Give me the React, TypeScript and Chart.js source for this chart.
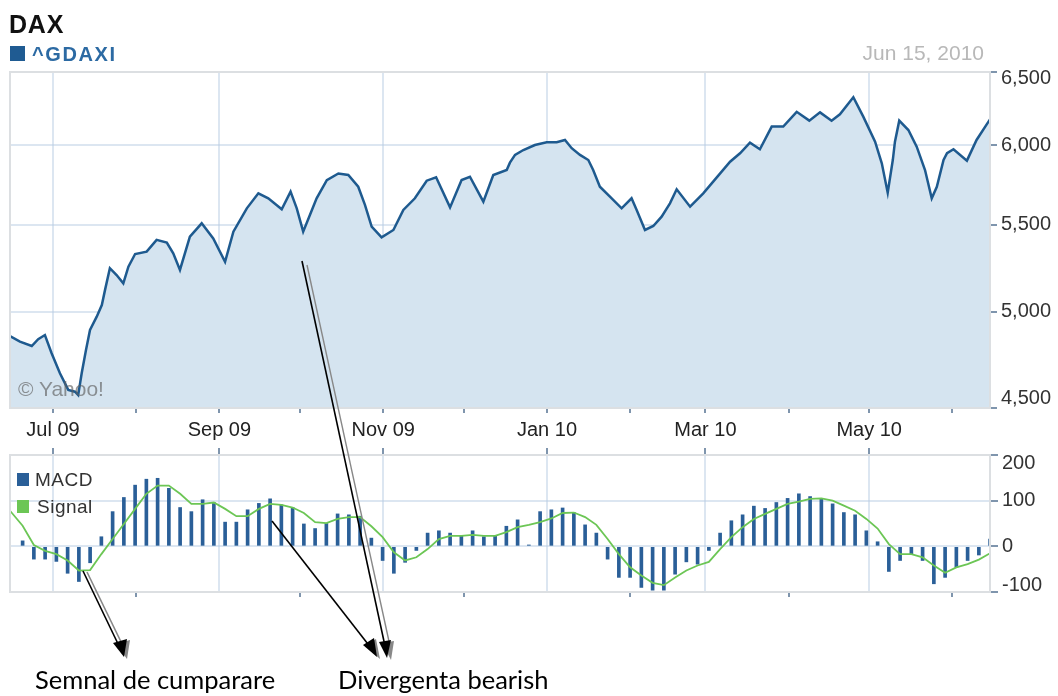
import React, { useEffect, useRef } from 'react';
import { Chart, registerables } from 'chart.js';

Chart.register(...registerables);

// ---------- data ----------
const TITLE = 'DAX';
const SYMBOL = '^GDAXI';
const DATE_LABEL = 'Jun 15, 2010';
const WATERMARK = '© Yahoo!';

// x axis: days since 2009-06-15 (0 .. 365 = Jun 15, 2010)
const X_MIN_DAY = 0;
const X_MAX_DAY = 365;
const monthTickDays = [16, 47, 78, 108, 139, 169, 200, 231, 259, 290, 320, 351];
const monthTickLabels = ['Jul 09', '', 'Sep 09', '', 'Nov 09', '', 'Jan 10', '', 'Mar 10', '', 'May 10', ''];

const priceTicks = [4500, 5000, 5500, 6000, 6500];
const macdTicks = [-100, 0, 100, 200];

const priceDays = [
  0, 3.7, 8.1, 10.5, 13.0, 15.5, 18.6, 21.7, 24.2, 25.4,
  26.7, 28.3, 29.8, 32.3, 34.2, 35.4, 37.2, 39.7, 42.2, 44.1,
  46.6, 50.9, 54.6, 58.4, 60.8, 63.3, 67.0, 71.4, 75.7, 80.1,
  83.2, 88.2, 92.5, 96.2, 101.2, 104.5, 106.8, 109.2, 111.7, 114.2,
  118.0, 122.3, 126.0, 129.7, 132.2, 134.7, 138.4, 142.8, 146.5, 150.8,
  155.2, 158.7, 163.9, 168.2, 171.3, 176.3, 180.0, 185.0, 186.2, 188.1,
  191.2, 195.5, 199.9, 203.6, 206.7, 209.2, 212.3, 215.4, 217.2, 219.7,
  224.1, 227.8, 231.5, 233.4, 236.5, 239.6, 242.7, 245.8, 248.3, 253.3,
  258.2, 261.9, 268.2, 271.9, 275.6, 279.3, 283.7, 288.0, 293.0, 297.7,
  301.7, 306.0, 309.1, 314.1, 317.8, 322.2, 324.7, 326.9, 328.8, 329.6,
  331.2, 334.6, 337.7, 340.8, 343.3, 345.2, 347.7, 349.0, 351.4, 356.4,
  360.0, 365.0,
];
const priceValues = [
  4868, 4839, 4816, 4852, 4874, 4778, 4674, 4590, 4581, 4564,
  4674, 4795, 4901, 4973, 5037, 5121, 5244, 5205, 5158, 5253,
  5326, 5340, 5409, 5393, 5330, 5234, 5428, 5508, 5418, 5281,
  5458, 5599, 5692, 5661, 5593, 5702, 5599, 5458, 5558, 5661,
  5775, 5817, 5807, 5733, 5620, 5488, 5424, 5468, 5589, 5661,
  5771, 5793, 5605, 5775, 5796, 5640, 5807, 5839, 5886, 5936,
  5968, 6001, 6019, 6019, 6034, 5980, 5936, 5903, 5839, 5733,
  5661, 5599, 5661, 5589, 5468, 5492, 5548, 5630, 5717, 5609,
  5692, 5765, 5892, 5947, 6016, 5973, 6123, 6123, 6223, 6163,
  6219, 6163, 6206, 6323, 6190, 6023, 5882, 5696, 5903, 6023,
  6163, 6100, 5990, 5839, 5661, 5733, 5903, 5947, 5973, 5899,
  6034, 6172,
];

// MACD histogram: one bar every 3 trading days
const MACD_START_DAY = 4.7;
const MACD_STEP_DAYS = 4.19;
const macdValues = [
  12, -28, -28, -33, -59, -77, -36, 21, 76, 107,
  134, 147, 149, 127, 85, 76, 102, 96, 53, 53,
  80, 94, 104, 91, 85, 49, 39, 50, 71, 69,
  66, 18, -31, -59, -35, -9, 29, 34, 29, 23,
  34, 21, 23, 44, 58, 3, 76, 80, 84, 74,
  47, 29, -28, -68, -68, -90, -96, -96, -61, -34,
  -39, -9, 29, 56, 69, 88, 83, 96, 105, 115,
  109, 104, 93, 74, 69, 34, 10, -55, -31, -17,
  -31, -82, -68, -46, -31, -19, 16,
];
const SIGNAL_START_VALUE = 78; // at day 0
const signalValues = [
  45, 3, -10, -17, -31, -53, -52, -17, 16, 49,
  82, 115, 133, 133, 115, 93, 93, 96, 82, 66,
  66, 82, 93, 91, 85, 73, 53, 51, 60, 64,
  64, 44, 20, -13, -31, -24, -6, 16, 23, 23,
  25, 23, 23, 31, 42, 47, 53, 61, 73, 74,
  64, 47, 16, -17, -46, -64, -80, -85, -68, -53,
  -42, -34, -6, 20, 42, 60, 71, 82, 93, 98,
  104, 105, 100, 89, 78, 60, 39, 5, -17, -17,
  -24, -42, -58, -46, -39, -29, -15,
];

const annotationBuy = 'Semnal de cumparare';
const annotationBear = 'Divergenta bearish';

// ---------- styles ----------
const FONT = '"Liberation Sans", Arial, Helvetica, sans-serif';
const GRID = 'rgba(185, 205, 228, 0.5)';
const TICK = '#7f95ad';
const FRAME = '#dcdfe2';
const LINE_BLUE = '#1e5a8f';
const FILL_BLUE = '#d5e4f0';
const BAR_BLUE = '#2a5f98';
const SIGNAL_GREEN = '#6cc655';

const framePlugin = {
  id: 'frame',
  afterDraw(chart: any) {
    const { ctx, chartArea: a } = chart;
    ctx.save();
    ctx.strokeStyle = FRAME;
    ctx.lineWidth = 2;
    ctx.strokeRect(a.left, a.top, a.right - a.left, a.bottom - a.top);
    ctx.restore();
  },
};

const monthTicks = (axis: any) => {
  axis.ticks = monthTickDays.map((v) => ({ value: v }));
};
const isMajor = (i: number) => monthTickLabels[i] !== '';

// end labels of a value axis are nudged inwards (top one down, bottom one up)
const edgeLabel = (text: string, i: number, n: number) => {
  if (i === n - 1) return ['', text];
  if (i === 0) return [text, ''];
  return text;
};
const edgeFont = (topShift: number, bottomShift: number, n: number) => (c: any) => {
  const i = c.index;
  let lh: any = 1.2;
  if (i === n - 1) lh = `${topShift * 2}px`;
  else if (i === 0) lh = `${bottomShift * 2}px`;
  return { family: FONT, size: 20, lineHeight: lh };
};
const fixedYAxis = (s: any) => {
  s.width = 68;
  s.paddingTop = 0;
  s.paddingBottom = 0;
};

export default function App() {
  const priceRef = useRef<HTMLCanvasElement>(null);
  const macdRef = useRef<HTMLCanvasElement>(null);

  useEffect(() => {
    const priceChart = new Chart(priceRef.current as HTMLCanvasElement, {
      type: 'line',
      data: {
        datasets: [
          {
            data: priceDays.map((d, i) => ({ x: d, y: priceValues[i] })),
            borderColor: LINE_BLUE,
            borderWidth: 2.5,
            backgroundColor: FILL_BLUE,
            fill: 'start',
            pointRadius: 0,
            tension: 0,
          },
        ],
      },
      options: {
        animation: false,
        responsive: true,
        maintainAspectRatio: false,
        events: [],
        layout: { padding: { left: 10, top: 72, right: 0, bottom: 0 } },
        plugins: { legend: { display: false }, tooltip: { enabled: false } },
        scales: {
          x: {
            type: 'linear',
            min: X_MIN_DAY,
            max: X_MAX_DAY,
            z: 1,
            afterBuildTicks: monthTicks,
            afterFit: (s: any) => {
              s.height = 37;
            },
            ticks: {
              autoSkip: false,
              maxRotation: 0,
              padding: 5,
              color: '#222',
              font: { family: FONT, size: 20 },
              callback: (_v: any, i: number) => monthTickLabels[i],
            },
            grid: {
              color: (c: any) => (isMajor(c.index) ? GRID : 'rgba(0,0,0,0)'),
              tickColor: TICK,
              tickLength: 5,
              lineWidth: 2,
            },
            border: { display: false },
          },
          y: {
            type: 'logarithmic',
            position: 'right',
            min: priceTicks[0],
            max: priceTicks[priceTicks.length - 1],
            z: 1,
            afterBuildTicks: (axis: any) => {
              axis.ticks = priceTicks.map((v) => ({ value: v }));
            },
            afterFit: fixedYAxis,
            ticks: {
              padding: 4,
              color: '#333',
              font: edgeFont(6, 10, priceTicks.length),
              callback: (v: any, i: number) =>
                edgeLabel(Number(v).toLocaleString('en-US'), i, priceTicks.length),
            },
            grid: { color: GRID, tickColor: TICK, tickLength: 7, lineWidth: 2 },
            border: { display: false },
          },
        },
      },
      plugins: [framePlugin],
    } as any);

    const macdData = macdValues.map((v, i) => ({ x: MACD_START_DAY + MACD_STEP_DAYS * i, y: v }));
    const signalData = [{ x: X_MIN_DAY, y: SIGNAL_START_VALUE }].concat(
      signalValues.map((v, i) => ({ x: MACD_START_DAY + MACD_STEP_DAYS * i, y: v }))
    );

    const macdChart = new Chart(macdRef.current as HTMLCanvasElement, {
      type: 'bar',
      data: {
        datasets: [
          {
            type: 'line',
            label: 'Signal',
            data: signalData,
            borderColor: SIGNAL_GREEN,
            borderWidth: 1.8,
            pointRadius: 0,
            tension: 0,
            order: 0,
          },
          {
            type: 'bar',
            label: 'MACD',
            data: macdData,
            backgroundColor: BAR_BLUE,
            barThickness: 3,
            order: 1,
          },
        ],
      },
      options: {
        animation: false,
        responsive: true,
        maintainAspectRatio: false,
        events: [],
        layout: { padding: { left: 10, top: 7, right: 0, bottom: 0 } },
        plugins: { legend: { display: false }, tooltip: { enabled: false } },
        scales: {
          x: {
            type: 'linear',
            position: 'bottom',
            min: X_MIN_DAY,
            max: X_MAX_DAY,
            offset: false,
            afterBuildTicks: monthTicks,
            afterFit: (s: any) => {
              s.height = 18;
            },
            ticks: { display: false },
            grid: {
              offset: false,
              color: (c: any) => (isMajor(c.index) ? GRID : 'rgba(0,0,0,0)'),
              tickColor: (c: any) => (isMajor(c.index) ? 'rgba(0,0,0,0)' : TICK),
              tickLength: 5,
              lineWidth: 2,
            },
            border: { display: false },
          },
          x2: {
            type: 'linear',
            position: 'top',
            min: X_MIN_DAY,
            max: X_MAX_DAY,
            offset: false,
            afterBuildTicks: monthTicks,
            afterFit: (s: any) => {
              s.height = 8;
            },
            ticks: { display: false },
            grid: {
              offset: false,
              drawOnChartArea: false,
              tickColor: (c: any) => (isMajor(c.index) ? TICK : 'rgba(0,0,0,0)'),
              tickLength: 7,
              lineWidth: 2,
            },
            border: { display: false },
          },
          y: {
            type: 'linear',
            position: 'right',
            min: macdTicks[0],
            max: macdTicks[macdTicks.length - 1],
            afterBuildTicks: (axis: any) => {
              axis.ticks = macdTicks.map((v) => ({ value: v }));
            },
            afterFit: fixedYAxis,
            ticks: {
              padding: 4,
              color: '#333',
              font: edgeFont(8, 7, macdTicks.length),
              callback: (v: any, i: number) => edgeLabel(String(v), i, macdTicks.length),
            },
            grid: { color: GRID, tickColor: TICK, tickLength: 8, lineWidth: 2 },
            border: { display: false },
          },
        },
      },
      plugins: [framePlugin],
    } as any);

    return () => {
      priceChart.destroy();
      macdChart.destroy();
    };
  }, []);

  const abs = (s: React.CSSProperties): React.CSSProperties => ({ position: 'absolute', ...s });
  const noteFont = 'Lato, "Open Sans", sans-serif';

  return (
    <div style={abs({ left: 0, top: 0, width: 1058, height: 696, background: '#fff', overflow: 'hidden', fontFamily: FONT })}>
      <div style={abs({ left: 0, top: 0, width: 1058, height: 445 })}>
        <canvas ref={priceRef} />
      </div>
      <div style={abs({ left: 0, top: 440, width: 1058, height: 170 })}>
        <canvas ref={macdRef} />
      </div>

      <div style={abs({ left: 9, top: 12, fontSize: 25, lineHeight: 1, fontWeight: 'bold', color: '#111', letterSpacing: 0.8 })}>{TITLE}</div>
      <div style={abs({ left: 10, top: 46, width: 15, height: 15, background: '#1f5b92' })} />
      <div style={abs({ left: 32, top: 44, fontSize: 20, lineHeight: 1, fontWeight: 'bold', color: '#2c6aa3', letterSpacing: 1.6 })}>{SYMBOL}</div>
      <div style={abs({ right: 74, top: 42, fontSize: 21, lineHeight: 1, color: '#b8b8b8' })}>{DATE_LABEL}</div>
      <div style={abs({ left: 18, top: 378, fontSize: 21, lineHeight: 1, color: 'rgba(95,95,95,0.65)' })}>{WATERMARK}</div>

      <div style={abs({ left: 17, top: 473, width: 12, height: 13, background: BAR_BLUE })} />
      <div style={abs({ left: 35, top: 470, fontSize: 19, lineHeight: 1, color: '#333', letterSpacing: 0.5 })}>MACD</div>
      <div style={abs({ left: 17, top: 500, width: 12, height: 13, background: SIGNAL_GREEN })} />
      <div style={abs({ left: 37, top: 497, fontSize: 19, lineHeight: 1, color: '#333', letterSpacing: 0.5 })}>Signal</div>

      <svg width={1058} height={696} style={abs({ left: 0, top: 0, pointerEvents: 'none' })}>
        {/* buy signal arrow */}
        <line x1={87} y1={572} x2={124} y2={648} stroke="#888" strokeWidth={1.6} />
        <line x1={83} y1={571} x2={120} y2={648} stroke="#000" strokeWidth={1.6} />
        <polygon points="116,644 130,640 127,659" fill="#888" />
        <polygon points="113,643 127,639 124,657" fill="#000" />
        {/* divergence arrow from MACD */}
        <line x1={272} y1={521} x2={371} y2={648} stroke="#000" strokeWidth={1.6} />
        <polygon points="365,646 376,639 380,659" fill="#888" />
        <polygon points="363,645 374,638 377,657" fill="#000" />
        {/* divergence arrow from price */}
        <line x1={307} y1={265} x2={390} y2={646} stroke="#888" strokeWidth={1.4} />
        <line x1={302} y1={261} x2={385} y2={646} stroke="#000" strokeWidth={1.6} />
        <polygon points="382,643 394,641 391,660" fill="#888" />
        <polygon points="379,642 391,640 387,658" fill="#000" />
      </svg>

      <div style={abs({ left: 35, top: 667, fontSize: 25.5, lineHeight: 1, color: '#000', fontFamily: noteFont, whiteSpace: 'nowrap' })}>{annotationBuy}</div>
      <div style={abs({ left: 338, top: 667, fontSize: 25.5, lineHeight: 1, color: '#000', fontFamily: noteFont, whiteSpace: 'nowrap' })}>{annotationBear}</div>
    </div>
  );
}
